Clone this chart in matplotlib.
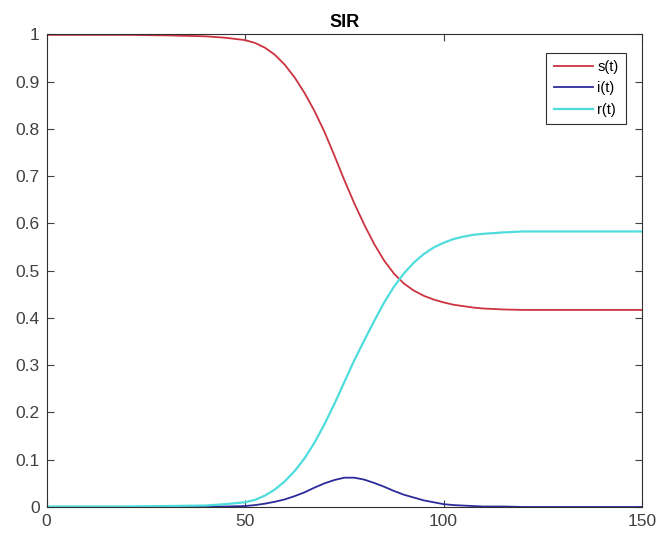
import matplotlib
matplotlib.use("Agg")
import matplotlib.pyplot as plt

# time samples
t = [0, 10, 20, 30, 40, 45, 50, 52.5, 55, 57.5, 60, 62.5, 65, 67.5, 70, 72.5,
     75, 77.5, 80, 82.5, 85, 87.5, 90, 92.5, 95, 97.5, 100, 102.5, 105, 107.5,
     110, 115, 120, 130, 140, 150]

s_vals = [0.999, 0.999, 0.999, 0.998, 0.996, 0.993, 0.988, 0.982, 0.972, 0.957,
          0.936, 0.909, 0.876, 0.838, 0.794, 0.744, 0.692, 0.643, 0.598, 0.557,
          0.522, 0.494, 0.473, 0.458, 0.447, 0.439, 0.433, 0.428, 0.425, 0.422,
          0.420, 0.418, 0.417, 0.417, 0.417, 0.417]

i_vals = [0.000, 0.000, 0.000, 0.000, 0.001, 0.001, 0.002, 0.004, 0.007, 0.011,
          0.016, 0.023, 0.031, 0.041, 0.050, 0.057, 0.062, 0.062, 0.058, 0.051,
          0.043, 0.034, 0.026, 0.020, 0.014, 0.010, 0.006, 0.004, 0.003, 0.002,
          0.001, 0.001, 0.000, 0.000, 0.000, 0.000]

r_vals = [0.001, 0.001, 0.001, 0.002, 0.003, 0.006, 0.010, 0.015, 0.024, 0.037,
          0.054, 0.076, 0.103, 0.136, 0.175, 0.218, 0.264, 0.310, 0.352, 0.393,
          0.432, 0.466, 0.494, 0.517, 0.535, 0.549, 0.559, 0.567, 0.572, 0.576,
          0.578, 0.581, 0.583, 0.583, 0.583, 0.583]

plt.rcParams['font.family'] = ['Liberation Sans', 'DejaVu Sans']

fig = plt.figure(figsize=(6.58, 5.37), dpi=100)
ax = fig.add_axes([0.0707, 0.0559, 0.905, 0.880])

ax.plot(t, s_vals, color='#cc3340', lw=1.3, label='s(t)')
ax.plot(t, i_vals, color='#2b2b9b', lw=1.3, label='i(t)')
ax.plot(t, r_vals, color='#4fdcdc', lw=1.6, label='r(t)')

ax.set_xlim(0, 150)
ax.set_ylim(0, 1)
ax.set_xticks([0, 50, 100, 150])
ax.set_yticks([0, 0.1, 0.2, 0.3, 0.4, 0.5, 0.6, 0.7, 0.8, 0.9, 1])
ax.set_yticklabels(['0', '0.1', '0.2', '0.3', '0.4', '0.5', '0.6', '0.7', '0.8', '0.9', '1'])
ax.tick_params(direction='in', top=True, right=True, length=5, width=0.8,
               labelsize=12.5, colors='#404040', pad=5)
for sp in ax.spines.values():
    sp.set_color('#303030')
    sp.set_linewidth(0.8)

ax.set_title('SIR', fontsize=13, fontweight='bold', pad=5)

leg = ax.legend(loc='upper right', bbox_to_anchor=(0.973, 0.961), borderaxespad=0,
                fontsize=10.5, fancybox=False, framealpha=1, edgecolor='#303030',
                handlelength=2.7, handletextpad=0.3, borderpad=0.5, labelspacing=0.5)
leg.get_frame().set_linewidth(0.8)

fig.savefig('out.png', dpi=100, facecolor='white')
